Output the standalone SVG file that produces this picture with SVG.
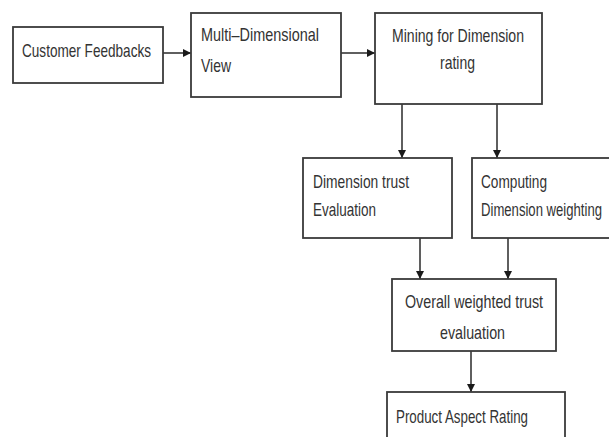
<svg xmlns="http://www.w3.org/2000/svg" width="609" height="437" viewBox="0 0 609 437">
<defs>
<style>
.box{fill:#fff;stroke:#3a3a3a;stroke-width:1.8}
.t{font-family:"Liberation Sans",Arial,sans-serif;font-size:18.5px;fill:#333}
.c{stroke:#2a2a2a;stroke-width:1.5;fill:none}
</style>
<marker id="ah" viewBox="0 0 10 10" refX="10" refY="5" markerWidth="9" markerHeight="8" markerUnits="userSpaceOnUse" orient="auto">
<path d="M0,0 L10,5 L0,10 z" fill="#1a1a1a"/>
</marker>
</defs>
<rect width="609" height="437" fill="#fff"/>
<g id="connectors">
<line class="c" x1="163" y1="53" x2="191" y2="53" marker-end="url(#ah)"/>
<line class="c" x1="341" y1="53" x2="375" y2="53" marker-end="url(#ah)"/>
<line class="c" x1="402" y1="104" x2="402" y2="158" marker-end="url(#ah)"/>
<line class="c" x1="497" y1="104" x2="497" y2="158" marker-end="url(#ah)"/>
<line class="c" x1="420" y1="238" x2="420" y2="279" marker-end="url(#ah)"/>
<line class="c" x1="508" y1="238" x2="508" y2="279" marker-end="url(#ah)"/>
<line class="c" x1="471" y1="351" x2="471" y2="392" marker-end="url(#ah)"/>
</g>
<g id="customer-feedbacks">
<rect class="box" x="13" y="27" width="150" height="56"/>
<text class="t" x="22" y="57" textLength="129" lengthAdjust="spacingAndGlyphs">Customer Feedbacks</text>
</g>
<g id="multi-dimensional-view">
<rect class="box" x="191" y="13" width="150" height="84"/>
<text class="t" x="201" y="41" textLength="118" lengthAdjust="spacingAndGlyphs">Multi–Dimensional</text>
<text class="t" x="201" y="72" textLength="30" lengthAdjust="spacingAndGlyphs">View</text>
</g>
<g id="mining-dimension-rating">
<rect class="box" x="375" y="13" width="167" height="91"/>
<text class="t" x="392" y="42" textLength="132" lengthAdjust="spacingAndGlyphs">Mining for Dimension</text>
<text class="t" x="440" y="69" textLength="35" lengthAdjust="spacingAndGlyphs">rating</text>
</g>
<g id="dimension-trust-evaluation">
<rect class="box" x="303" y="158" width="149" height="80"/>
<text class="t" x="313" y="188" textLength="96" lengthAdjust="spacingAndGlyphs">Dimension trust</text>
<text class="t" x="313" y="216" textLength="63" lengthAdjust="spacingAndGlyphs">Evaluation</text>
</g>
<g id="computing-dimension-weighting">
<rect class="box" x="472" y="158" width="145" height="80"/>
<text class="t" x="481" y="188" textLength="66" lengthAdjust="spacingAndGlyphs">Computing</text>
<text class="t" x="0" y="0" transform="translate(481 216) scale(1 1.37)" style="font-size:13.5px" textLength="121" lengthAdjust="spacingAndGlyphs">Dimension weighting</text>
</g>
<g id="overall-weighted-trust-evaluation">
<rect class="box" x="392" y="279" width="164" height="72"/>
<text class="t" x="405" y="308" textLength="138" lengthAdjust="spacingAndGlyphs">Overall weighted trust</text>
<text class="t" x="440" y="339" textLength="65" lengthAdjust="spacingAndGlyphs">evaluation</text>
</g>
<g id="product-aspect-rating">
<rect class="box" x="387" y="392" width="178" height="60"/>
<text class="t" x="396" y="423" textLength="132" lengthAdjust="spacingAndGlyphs">Product Aspect Rating</text>
</g>
</svg>
